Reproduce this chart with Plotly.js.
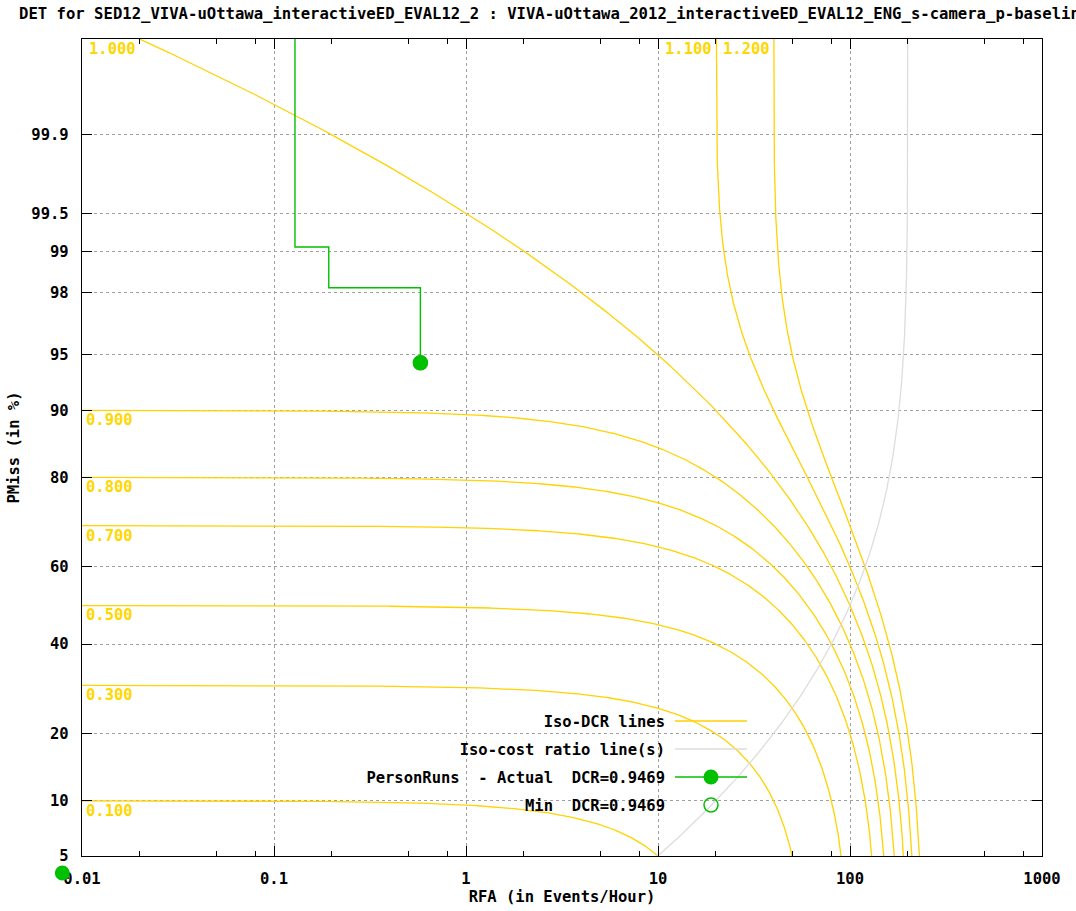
<!DOCTYPE html>
<html>
<head>
<meta charset="utf-8">
<script src="https://cdn.plot.ly/plotly-3.0.1.min.js"></script>
<style>html,body{margin:0;padding:0;background:#fff;}</style>
</head>
<body>
<div id="chart" style="width:1076px;height:911px;"></div>
<script>
// ---------------- data ----------------
const costRatio = 0.005;                       // DCR = PMiss + costRatio * RFA
const isoDcrLevels = [0.1, 0.3, 0.5, 0.7, 0.8, 0.9, 1.0, 1.1, 1.2];
const isoDcrLabels = ["0.100", "0.300", "0.500", "0.700", "0.800", "0.900", "1.000", "1.100", "1.200"];

const xTickVals = [0.01, 0.1, 1, 10, 100, 1000];
const xTickText = ["0.01", "0.1", "1", "10", "100", "1000"];
const xMinorTicks = [0.02, 0.05, 0.08, 0.2, 0.5, 0.8, 2, 5, 8, 20, 50, 80, 200, 500, 800];

const yTickPct = [5, 10, 20, 40, 60, 80, 90, 95, 98, 99, 99.5, 99.9];
const yTickText = ["5", "10", "20", "40", "60", "80", "90", "95", "98", "99", "99.5", "99.9"];
const yRangePct = [5, 99.99];

// PersonRuns DET step curve (RFA in events/hour, PMiss as fraction)
const actualRFA   = [0.1286, 0.1286, 0.1929, 0.1929, 0.5787, 0.5787];
const actualPMiss = [1.0,    0.9907, 0.9907, 0.9815, 0.9815, 0.9444];
// Actual DCR marker
const actualPtRFA   = [0.5787];
const actualPtPMiss = [0.9444];
// extra actual-style marker that gnuplot drew outside the axes (bottom-left corner)
const offAxisPtRFA   = [0.0079];
const offAxisPtPMiss = [0.0395];
// Min DCR marker
const minPtRFA   = [0.5787];
const minPtPMiss = [0.9444];

const titleText = "DET for SED12_VIVA-uOttawa_interactiveED_EVAL12_2 : VIVA-uOttawa_2012_interactiveED_EVAL12_ENG_s-camera_p-baseline";
const nameIso = "Iso-DCR lines";
const nameCost = "Iso-cost ratio line(s)";
const nameActual = "PersonRuns\u00A0 - Actual\u00A0 DCR=0.9469";
const nameMin = "Min\u00A0 DCR=0.9469";

// ---------------- helpers (normal deviate scale) ----------------
function probit(p){
  const a=[-3.969683028665376e+01,2.209460984245205e+02,-2.759285104469687e+02,1.383577518672690e+02,-3.066479806614716e+01,2.506628277459239e+00];
  const b=[-5.447609879822406e+01,1.615858368580409e+02,-1.556989798598866e+02,6.680131188771972e+01,-1.328068155288572e+01];
  const c=[-7.784894002430293e-03,-3.223964580411365e-01,-2.400758277161838e+00,-2.549671010243381e+00,4.374664141464968e+00,2.938163982698783e+00];
  const d=[7.784695709041462e-03,3.224671290700398e-01,2.445134137142996e+00,3.754408661907416e+00];
  if (p === null) return null;
  if (p <= 0) return -8;
  if (p >= 1) return 8;
  const pl = 0.02425, ph = 1 - pl;
  let q, r;
  if (p < pl) { q = Math.sqrt(-2*Math.log(p)); return (((((c[0]*q+c[1])*q+c[2])*q+c[3])*q+c[4])*q+c[5])/((((d[0]*q+d[1])*q+d[2])*q+d[3])*q+1); }
  if (p > ph) { q = Math.sqrt(-2*Math.log(1-p)); return -(((((c[0]*q+c[1])*q+c[2])*q+c[3])*q+c[4])*q+c[5])/((((d[0]*q+d[1])*q+d[2])*q+d[3])*q+1); }
  q = p - 0.5; r = q*q;
  return (((((a[0]*r+a[1])*r+a[2])*r+a[3])*r+a[4])*r+a[5])*q/(((((b[0]*r+b[1])*r+b[2])*r+b[3])*r+b[4])*r+1);
}
function erfc(x){
  const z = Math.abs(x), t = 1/(1+0.5*z);
  const r = t*Math.exp(-z*z-1.26551223+t*(1.00002368+t*(0.37409196+t*(0.09678418+t*(-0.18628806+t*(0.27886807+t*(-1.13520398+t*(1.48851587+t*(-0.82215223+t*0.17087277)))))))));
  return x >= 0 ? r : 2 - r;
}
function Phi(z){ return 0.5*erfc(-z/Math.SQRT2); }

function isoDcrCurve(level){
  const pts = [];
  for (let lx = -2.3; lx <= 3.3; lx += 0.005){
    const r = Math.pow(10, lx), p = level - costRatio*r;
    if (p > 0 && p < 1) pts.push([r, probit(p)]);
  }
  for (let z = -2.2; z <= 4.3; z += 0.01){
    const r = (level - Phi(z))/costRatio;
    if (r > 0) pts.push([r, z]);
  }
  pts.sort((u, v) => u[0] - v[0]);
  return pts;
}
function isoCostCurve(){
  const pts = [];
  for (let z = -2.2; z <= 4.3; z += 0.01) pts.push([Phi(z)/costRatio, z]);
  return pts;
}

// ---------------- styling ----------------
const FAM = '"DejaVu Sans Mono", "Liberation Mono", monospace';
const FONT = {family: FAM, size: 15.5, color: '#000', weight: 'bold'};
const TITLE_FONT = {family: FAM, size: 15.6, color: '#000', weight: 'bold'};
const GOLD_LINE = '#FFD200';
const GOLD_TEXT = '#FFD700';
const GREEN = '#00C000';

const traces = [];
isoDcrLevels.forEach(function(level, i){
  const pts = isoDcrCurve(level);
  traces.push({
    type: 'scatter', mode: 'lines', name: nameIso, showlegend: i === 0,
    x: pts.map(q => q[0]), y: pts.map(q => q[1]),
    line: {color: GOLD_LINE, width: 1.3}, hoverinfo: 'skip'
  });
});
const costPts = isoCostCurve();
traces.push({
  type: 'scatter', mode: 'lines', name: nameCost,
  x: costPts.map(q => q[0]), y: costPts.map(q => q[1]),
  line: {color: '#DDDDDD', width: 1.3}, hoverinfo: 'skip'
});
traces.push({
  type: 'scatter', mode: 'lines', name: 'PersonRuns step', showlegend: false,
  x: actualRFA, y: actualPMiss.map(probit),
  line: {color: GREEN, width: 1.4, shape: 'linear'}
});
traces.push({
  type: 'scatter', mode: 'lines+markers', name: nameActual,
  x: actualPtRFA, y: actualPtPMiss.map(probit),
  line: {color: GREEN, width: 1.4},
  marker: {color: GREEN, size: 15, symbol: 'circle', line: {width: 0}}
});
traces.push({
  type: 'scatter', mode: 'markers', name: nameMin,
  x: minPtRFA, y: minPtPMiss.map(probit),
  marker: {color: GREEN, size: 14, symbol: 'circle-open', line: {width: 1.5, color: GREEN}}
});

const xRange = [Math.log10(xTickVals[0]), Math.log10(xTickVals[xTickVals.length-1])];
const yRange = [probit(yRangePct[0]/100), probit(yRangePct[1]/100)];
const yTop = yRange[1];

const annotations = isoDcrLevels.map(function(level, i){
  if (level < 1){
    return {x: xRange[0], y: probit(level), xref: 'x', yref: 'y',
            text: isoDcrLabels[i], showarrow: false, xanchor: 'left', yanchor: 'top',
            xshift: 2, yshift: 1, font: {family: FAM, size: 15.5, color: GOLD_TEXT, weight: 'bold'}};
  }
  const r = (level - yRangePct[1]/100)/costRatio;
  return {x: Math.log10(r), y: yTop, xref: 'x', yref: 'y',
          text: isoDcrLabels[i], showarrow: false, xanchor: 'right', yanchor: 'top',
          xshift: -2, yshift: 1, font: {family: FAM, size: 15.5, color: GOLD_TEXT, weight: 'bold'}};
});

const W = 1076, H = 911, ML = 82, MR = 34, MT = 39, MB = 55;
const PW = W - ML - MR, PH = H - MT - MB;
function px2paperX(px){ return (px - ML)/PW; }
function px2paperY(py){ return (H - MB - py)/PH; }
// data -> paper fraction through the axis scales (for the marker lying outside the axes)
function data2paperX(rfa){ return (Math.log10(rfa) - xRange[0])/(xRange[1] - xRange[0]); }
function data2paperY(pm){ return (probit(pm) - yRange[0])/(yRange[1] - yRange[0]); }

const shapes = [{type: 'rect', layer: 'between', xref: 'paper', yref: 'paper',
                 x0: px2paperX(370), x1: px2paperX(752), y0: px2paperY(819), y1: px2paperY(707),
                 fillcolor: '#FFFFFF', line: {width: 0}}];
offAxisPtRFA.forEach(function(r, i){
  shapes.push({type: 'circle', layer: 'above', xref: 'paper', yref: 'paper',
               xsizemode: 'pixel', ysizemode: 'pixel',
               xanchor: data2paperX(r), yanchor: data2paperY(offAxisPtPMiss[i]),
               x0: -7.5, x1: 7.5, y0: -7.5, y1: 7.5,
               fillcolor: GREEN, line: {width: 0}});
});

const axisCommon = {
  ticks: 'inside', ticklen: 10, tickwidth: 1, tickcolor: '#000',
  showline: true, linecolor: '#000', linewidth: 1.2, mirror: 'allticks',
  showgrid: true, gridcolor: '#A0A0A0', griddash: '3px,3px', gridwidth: 1,
  zeroline: false, automargin: false, tickfont: FONT
};

const layout = {
  width: W, height: H,
  margin: {l: ML, r: MR, t: MT, b: MB, pad: 0},
  paper_bgcolor: '#fff', plot_bgcolor: '#fff',
  font: FONT, hovermode: false, showlegend: true,
  title: {text: titleText, x: 19/W, xanchor: 'left', xref: 'container',
          y: 1 - 14/H, yanchor: 'middle', yref: 'container', font: TITLE_FONT},
  xaxis: Object.assign({}, axisCommon, {
    type: 'log', range: xRange,
    tickmode: 'array', tickvals: xTickVals, ticktext: xTickText, ticklabelstandoff: 8,
    minor: {tickvals: xMinorTicks, ticks: 'inside', ticklen: 5, tickwidth: 1, tickcolor: '#000', showgrid: false},
    title: {text: 'RFA (in Events/Hour)', font: FONT, standoff: 4}
  }),
  yaxis: Object.assign({}, axisCommon, {
    type: 'linear', range: yRange,
    tickmode: 'array', tickvals: yTickPct.map(v => probit(v/100)), ticktext: yTickText, ticklabelstandoff: 9,
    title: {text: 'PMiss (in %)', font: FONT, standoff: 8}
  }),
  legend: {font: FONT, bgcolor: 'rgba(0,0,0,0)', borderwidth: 0,
           x: px2paperX(372), y: px2paperY(708), xanchor: 'left', yanchor: 'top'},
  shapes: shapes,
  annotations: annotations
};

// legend rows laid out like the gnuplot key: right-aligned text, sample on the right
const LEG_TEXT_RIGHT = 665, LEG_SAMPLE_CENTER = 711, LEG_SAMPLE_LEFT = 675, LEG_SAMPLE_W = 72;
const LEG_ROWS = {};
LEG_ROWS[nameIso] = 721; LEG_ROWS[nameCost] = 749; LEG_ROWS[nameActual] = 777; LEG_ROWS[nameMin] = 805;

Plotly.newPlot('chart', traces, layout, {staticPlot: true, displayModeBar: false}).then(function(gd){
  const legend = gd.querySelector('g.legend');
  if (!legend) return;
  legend.setAttribute('transform', 'translate(0,0)');
  legend.querySelectorAll('rect.bg, rect.scrollbar').forEach(e => e.setAttribute('display', 'none'));
  legend.querySelectorAll('[clip-path]').forEach(e => e.removeAttribute('clip-path'));
  legend.querySelectorAll('g.scrollbox, g.groups').forEach(e => e.setAttribute('transform', 'translate(0,0)'));
  legend.querySelectorAll('g.traces').forEach(function(item){
    const t = item.querySelector('text.legendtext');
    const name = t ? t.textContent : '';
    const row = LEG_ROWS[name];
    if (row === undefined) return;
    item.setAttribute('transform', 'translate(0,' + row + ')');
    t.setAttribute('x', LEG_TEXT_RIGHT);
    t.setAttribute('text-anchor', 'end');
    t.style.textAnchor = 'end';
    t.querySelectorAll('tspan').forEach(s => { if (s.hasAttribute('x')) s.setAttribute('x', LEG_TEXT_RIGHT); });
    const layers = item.querySelector('g.layers');
    if (layers) layers.setAttribute('transform', 'translate(' + (LEG_SAMPLE_CENTER - 20) + ',0)');
    item.querySelectorAll('g.legendlines path').forEach(function(p){
      p.setAttribute('d', 'M' + (LEG_SAMPLE_LEFT - (LEG_SAMPLE_CENTER - 20)) + ',0h' + LEG_SAMPLE_W);
    });
  });
});
</script>
</body>
</html>
